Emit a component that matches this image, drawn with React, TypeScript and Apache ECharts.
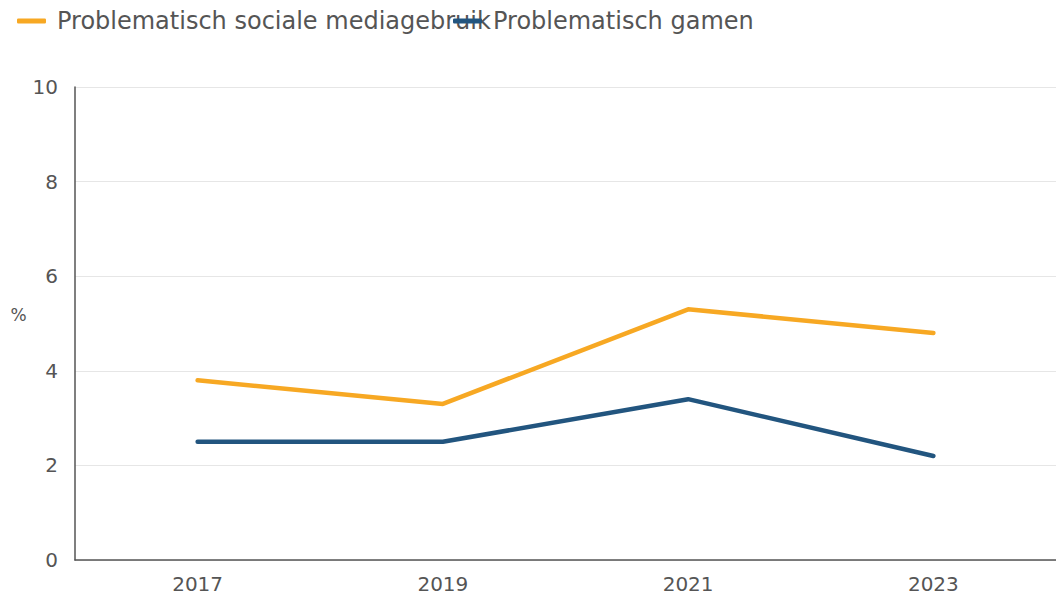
import React, { useEffect, useRef } from "react";
import * as echarts from "echarts";

const years = ["2017", "2019", "2021", "2023"];
const socialMedia = [3.8, 3.3, 5.3, 4.8];
const gaming = [2.5, 2.5, 3.4, 2.2];
const seriesNames = ["Problematisch sociale mediagebruik", "Problematisch gamen"];
const colors = ["#F7A823", "#22557F"];

const FONT = "DejaVu Sans";

export default function App() {
  const ref = useRef<HTMLDivElement>(null);
  useEffect(() => {
    if (!ref.current) return;
    const chart = echarts.init(ref.current, null, { renderer: "svg" });
    const legendBase = {
      top: 4,
      icon: "roundRect",
      itemWidth: 29,
      itemHeight: 5,
      textStyle: { fontFamily: FONT, fontSize: 24, color: "#555", padding: [0, 0, 0, 6] },
    };
    chart.setOption({
      animation: false,
      color: colors,
      textStyle: { fontFamily: FONT },
      legend: [
        { ...legendBase, left: 12, data: [seriesNames[0]] },
        { ...legendBase, left: 448, data: [seriesNames[1]] },
      ],
      grid: { left: 75, top: 87, bottom: 41, width: 984, containLabel: false },
      xAxis: {
        type: "category",
        data: years,
        boundaryGap: true,
        axisLine: { lineStyle: { color: "#555", width: 1.5 } },
        axisTick: { alignWithLabel: true, length: 8, lineStyle: { color: "#555" } },
        axisLabel: { fontFamily: FONT, fontSize: 20, color: "#555", margin: 14 },
      },
      yAxis: {
        type: "value",
        min: 0,
        max: 10,
        interval: 2,
        name: "%",
        nameLocation: "middle",
        nameRotate: 0,
        nameGap: 48,
        nameTextStyle: { fontFamily: FONT, fontSize: 17, color: "#555", verticalAlign: "bottom" },
        axisLine: { show: true, lineStyle: { color: "#555", width: 1.5 } },
        axisTick: { show: false },
        splitLine: { lineStyle: { color: "#e6e6e6", width: 1 } },
        axisLabel: { fontFamily: FONT, fontSize: 20, color: "#555", margin: 17 },
      },
      series: [
        {
          name: seriesNames[0],
          type: "line",
          data: socialMedia,
          symbol: "none",
          lineStyle: { width: 4.5, color: colors[0], cap: "round" },
        },
        {
          name: seriesNames[1],
          type: "line",
          data: gaming,
          symbol: "none",
          lineStyle: { width: 4.5, color: colors[1], cap: "round" },
        },
      ],
    });
    return () => chart.dispose();
  }, []);
  return (
    <div
      ref={ref}
      style={{ position: "fixed", left: 0, top: 0, width: 1056, height: 601, background: "#fff" }}
    />
  );
}
